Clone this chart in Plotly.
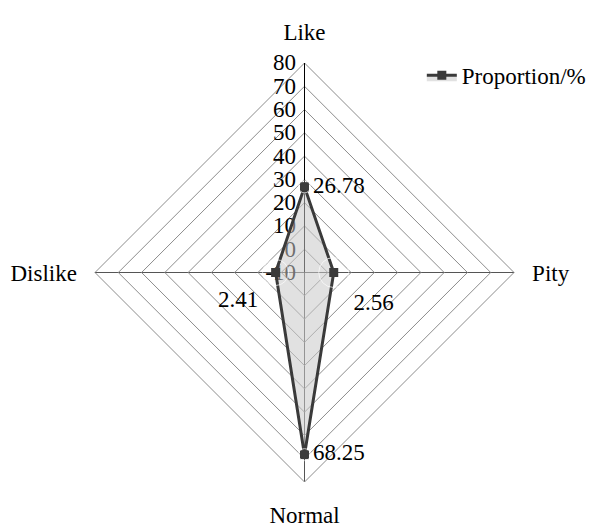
import plotly.graph_objects as go

categories = ["Like", "Pity", "Normal", "Dislike"]
values = [26.78, 2.56, 68.25, 2.41]
labels = ["26.78", "2.56", "68.25", "2.41"]
label_pos = ["middle right", "bottom right", "middle right", "bottom left"]
radial_ticks = [-10, 0, 10, 20, 30, 40, 50, 60, 70, 80]

# plotly hides polar points below |r_min| when the range starts negative,
# so the radial axis is shifted to start at 0 and relabelled
R0 = radial_ticks[0]
r_shift = [v - R0 for v in values]

fig = go.Figure()
fig.add_trace(go.Scatterpolar(
    r=r_shift + r_shift[:1],
    theta=categories + categories[:1],
    mode="lines+markers",
    fill="toself",
    fillcolor="rgba(200,200,200,0.55)",
    line=dict(color="#3a3a3a", width=3),
    marker=dict(symbol="square", size=9, color="#3a3a3a"),
    name="Proportion/%",
))
# data labels (invisible markers only set the text offset)
fig.add_trace(go.Scatterpolar(
    r=r_shift,
    theta=categories,
    mode="markers+text",
    text=labels,
    textposition=label_pos,
    textfont=dict(size=23, color="black"),
    marker=dict(size=[12, 30, 12, 26], color="rgba(0,0,0,0)"),
    showlegend=False,
    hoverinfo="skip",
))

fig.update_layout(
    width=595, height=529,
    font=dict(family="Liberation Serif", color="black", size=23),
    paper_bgcolor="white",
    margin=dict(l=87, r=67, t=44, b=44),
    polar=dict(
        bgcolor="white",
        gridshape="linear",
        radialaxis=dict(
            range=[0, radial_ticks[-1] - R0],
            tickvals=[t - R0 for t in radial_ticks],
            ticktext=[str(t) for t in radial_ticks],
            angle=90, tickangle=90,
            side="counterclockwise",
            showline=True, linecolor="black", linewidth=1,
            gridcolor="#8c8c8c", gridwidth=1,
            ticks="", tickfont=dict(size=23),
            layer="below traces",
        ),
        angularaxis=dict(
            direction="clockwise", rotation=90,
            showline=True, linecolor="#8c8c8c", linewidth=1,
            gridcolor="#555555",
            ticks="outside", ticklen=13, tickcolor="rgba(0,0,0,0)",
            tickfont=dict(size=23),
            layer="below traces",
        ),
    ),
    legend=dict(x=0.78, y=0.996, xanchor="left", yanchor="top",
                bgcolor="rgba(0,0,0,0)", font=dict(size=23)),
)

fig.write_html("out.html")
